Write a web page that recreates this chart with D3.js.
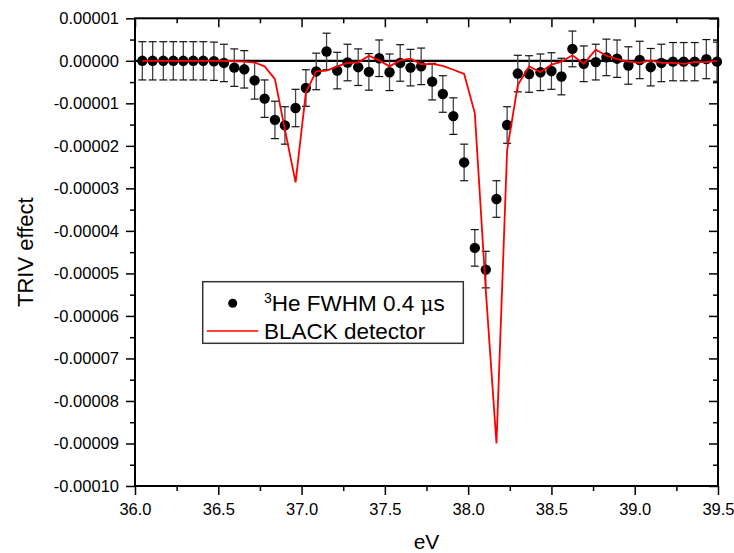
<!DOCTYPE html>
<html>
<head>
<meta charset="utf-8">
<script src="https://cdn.jsdelivr.net/npm/d3@7"></script>
<style>
  html, body { margin: 0; padding: 0; background: #fff; }
  svg { display: block; }
  text { font-family: "Liberation Sans", Arial, sans-serif; fill: #000; }
</style>
</head>
<body>
<svg id="chart" width="734" height="553"></svg>
<script>
// ---- data ----
const energies = [36.044, 36.106, 36.170, 36.230, 36.290, 36.350, 36.410, 36.474, 36.534, 36.596,
  36.656, 36.718, 36.778, 36.840, 36.900, 36.964, 37.026, 37.088, 37.150, 37.214,
  37.276, 37.340, 37.404, 37.466, 37.528, 37.592, 37.654, 37.718, 37.784, 37.848,
  37.911, 37.976, 38.040, 38.106, 38.170, 38.234, 38.298, 38.366, 38.434, 38.500,
  38.560, 38.626, 38.694, 38.766, 38.830, 38.894, 38.962, 39.030, 39.096, 39.160,
  39.230, 39.294, 39.360, 39.430, 39.494];
const trivEffect = [0, 0, 0, 0, 0, 0, 0, -0.01e-5, -0.05e-5, -0.16e-5,
  -0.20e-5, -0.46e-5, -0.89e-5, -1.39e-5, -1.52e-5, -1.11e-5, -0.64e-5, -0.25e-5, 0.22e-5, -0.23e-5,
  -0.04e-5, -0.15e-5, -0.26e-5, 0.06e-5, -0.27e-5, -0.05e-5, -0.16e-5, -0.13e-5, -0.49e-5, -0.78e-5,
  -1.30e-5, -2.39e-5, -4.40e-5, -4.91e-5, -3.25e-5, -1.51e-5, -0.30e-5, -0.31e-5, -0.27e-5, -0.24e-5,
  -0.37e-5, 0.28e-5, -0.07e-5, -0.03e-5, 0.08e-5, 0.05e-5, -0.11e-5, 0.02e-5, -0.15e-5, -0.05e-5,
  -0.02e-5, -0.02e-5, -0.02e-5, 0.04e-5, -0.02e-5];
const trivError = [0.45e-5, 0.45e-5, 0.45e-5, 0.45e-5, 0.45e-5, 0.45e-5, 0.45e-5, 0.45e-5, 0.44e-5, 0.44e-5,
  0.44e-5, 0.44e-5, 0.44e-5, 0.44e-5, 0.44e-5, 0.44e-5, 0.43e-5, 0.43e-5, 0.43e-5, 0.43e-5,
  0.43e-5, 0.43e-5, 0.43e-5, 0.43e-5, 0.43e-5, 0.43e-5, 0.43e-5, 0.43e-5, 0.43e-5, 0.43e-5,
  0.43e-5, 0.43e-5, 0.43e-5, 0.43e-5, 0.43e-5, 0.43e-5, 0.43e-5, 0.43e-5, 0.43e-5, 0.43e-5,
  0.43e-5, 0.42e-5, 0.42e-5, 0.42e-5, 0.43e-5, 0.44e-5, 0.44e-5, 0.44e-5, 0.44e-5, 0.44e-5,
  0.45e-5, 0.45e-5, 0.45e-5, 0.46e-5, 0.46e-5];
const blackDetector = [0, 0, 0, 0, 0, 0, 0, 0, 0, -0.01e-5,
  -0.02e-5, -0.04e-5, -0.13e-5, -0.43e-5, -1.62e-5, -2.86e-5, -0.74e-5, -0.25e-5, -0.23e-5, -0.13e-5,
  -0.05e-5, -0.04e-5, 0.12e-5, 0.01e-5, -0.13e-5, 0.01e-5, 0.05e-5, -0.08e-5, -0.07e-5, -0.12e-5,
  -0.21e-5, -0.31e-5, -1.23e-5, -5.40e-5, -9.00e-5, -2.10e-5, -0.57e-5, -0.13e-5, -0.27e-5, -0.09e-5,
  -0.02e-5, 0.13e-5, -0.07e-5, 0.26e-5, 0.12e-5, 0.04e-5, -0.02e-5, -0.05e-5, 0.01e-5, -0.05e-5,
  -0.05e-5, -0.07e-5, -0.03e-5, -0.03e-5, 0];
const xTicks = [36.0, 36.5, 37.0, 37.5, 38.0, 38.5, 39.0, 39.5];
const yTicks = [0.00001, 0, -0.00001, -0.00002, -0.00003, -0.00004, -0.00005, -0.00006, -0.00007, -0.00008, -0.00009, -0.0001];
const seriesNames = ["He FWHM 0.4 ", "BLACK detector"];

// ---- layout ----
const svg = d3.select("#chart");
const L = 135, R = 718, T = 18.3, B = 486;
const x = d3.scaleLinear().domain([36, 39.5]).range([L, R]);
const y = d3.scaleLinear().domain([-0.0001, 0.00001]).range([B, T]);

const xMinor = d3.range(36.25, 39.5, 0.5);
const yMinor = d3.range(-0.000095, 0.00001, 0.00001);

function styleAxis(g) {
  g.select(".domain").remove();
  g.selectAll(".tick line").attr("stroke", "#000").attr("stroke-width", 1.5);
  g.selectAll(".tick text").style("font-size", "16.5px").style("font-family", '"Liberation Sans", Arial, sans-serif').attr("fill", "#000");
}

// bottom axis (outward)
svg.append("g").attr("transform", `translate(0,${B})`)
  .call(d3.axisBottom(x).tickValues(xTicks).tickSize(9).tickPadding(8).tickFormat(d3.format(".1f")))
  .call(styleAxis);
svg.append("g").attr("transform", `translate(0,${B})`)
  .call(d3.axisBottom(x).tickValues(xMinor).tickSize(5).tickFormat(""))
  .call(styleAxis);
// top axis (inward)
svg.append("g").attr("transform", `translate(0,${T})`)
  .call(d3.axisTop(x).tickValues(xTicks).tickSize(-9).tickFormat(""))
  .call(styleAxis);
svg.append("g").attr("transform", `translate(0,${T})`)
  .call(d3.axisTop(x).tickValues(xMinor).tickSize(-5).tickFormat(""))
  .call(styleAxis);
// left axis (outward)
svg.append("g").attr("transform", `translate(${L},0)`)
  .call(d3.axisLeft(y).tickValues(yTicks).tickSize(9).tickPadding(7).tickFormat(d => d.toFixed(5)))
  .call(styleAxis);
svg.append("g").attr("transform", `translate(${L},0)`)
  .call(d3.axisLeft(y).tickValues(yMinor).tickSize(5).tickFormat(""))
  .call(styleAxis);
// right axis (inward)
svg.append("g").attr("transform", `translate(${R},0)`)
  .call(d3.axisRight(y).tickValues(yTicks).tickSize(-9).tickFormat(""))
  .call(styleAxis);
svg.append("g").attr("transform", `translate(${R},0)`)
  .call(d3.axisRight(y).tickValues(yMinor).tickSize(-5).tickFormat(""))
  .call(styleAxis);

// frame
svg.append("rect").attr("x", L).attr("y", T).attr("width", R - L).attr("height", B - T)
  .attr("fill", "none").attr("stroke", "#000").attr("stroke-width", 2);

// zero line
svg.append("line").attr("x1", L).attr("x2", R).attr("y1", y(0)).attr("y2", y(0))
  .attr("stroke", "#000").attr("stroke-width", 2.2);

const pts = energies.map((e, i) => ({ e, v: trivEffect[i], err: trivError[i], b: blackDetector[i] }));
const plot = svg.append("g");

// error bars
const eb = plot.append("g");
const capW = 4;
pts.forEach(p => {
  eb.append("line").attr("x1", x(p.e)).attr("x2", x(p.e)).attr("y1", y(p.v + p.err)).attr("y2", y(p.v - p.err))
    .attr("stroke", "#444").attr("stroke-width", 1.3);
  [p.v + p.err, p.v - p.err].forEach(v => {
    eb.append("line").attr("x1", x(p.e) - capW).attr("x2", Math.min(x(p.e) + capW, R)).attr("y1", y(v)).attr("y2", y(v))
      .attr("stroke", "#111").attr("stroke-width", 1.2);
  });
});

// dots
plot.append("g").selectAll("circle").data(pts).join("circle")
  .attr("cx", d => x(d.e)).attr("cy", d => y(d.v)).attr("r", 5.2).attr("fill", "#000");

// red line
plot.append("path").datum(pts)
  .attr("d", d3.line().x(d => x(d.e)).y(d => y(d.b)))
  .attr("fill", "none").attr("stroke", "#ff0000").attr("stroke-width", 1.8).attr("stroke-linejoin", "miter");

// axis titles
svg.append("text").attr("x", (L + R) / 2).attr("y", 549).attr("text-anchor", "middle")
  .style("font-size", "21px").text("eV");
svg.append("text").attr("transform", `translate(33,${(T + B) / 2}) rotate(-90)`).attr("text-anchor", "middle")
  .style("font-size", "22px").text("TRIV effect");

// legend
const lg = svg.append("g");
lg.append("rect").attr("x", 202.7).attr("y", 281.7).attr("width", 260.6).attr("height", 61.6)
  .attr("fill", "#fff").attr("stroke", "#333").attr("stroke-width", 1.5);
lg.append("circle").attr("cx", 232.7).attr("cy", 303.3).attr("r", 4.5).attr("fill", "#000");
const t1 = lg.append("text").attr("x", 264).attr("y", 310.5).style("font-size", "22.5px");
t1.append("tspan").attr("dy", -8).style("font-size", "14px").text("3");
t1.append("tspan").attr("dy", 8).text(seriesNames[0]);
t1.append("tspan").style("font-family", '"DejaVu Serif", "Liberation Serif", serif').style("font-size", "20px").text("μ");
t1.append("tspan").text("s");
lg.append("line").attr("x1", 206.7).attr("x2", 258.3).attr("y1", 331).attr("y2", 331)
  .attr("stroke", "#ff0000").attr("stroke-width", 1.6);
lg.append("text").attr("x", 264).attr("y", 338.8).style("font-size", "22.5px").text(seriesNames[1]);
</script>
</body>
</html>
